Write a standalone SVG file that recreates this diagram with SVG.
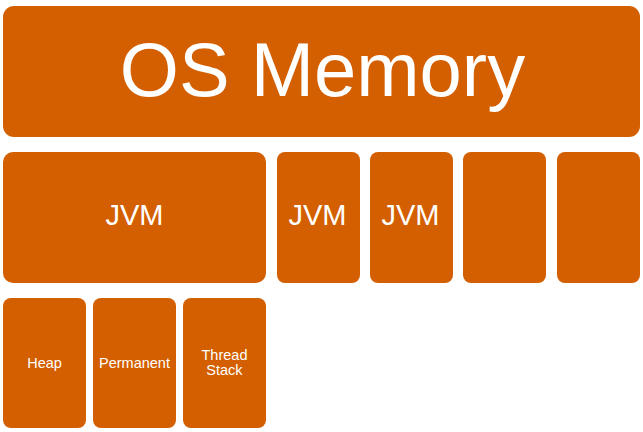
<svg xmlns="http://www.w3.org/2000/svg" width="643" height="432" viewBox="0 0 643 432">
<style>
.box{fill:#D35F00}
text{fill:#FFFFFF;font-family:"Liberation Sans",Arial,sans-serif;text-anchor:middle}
.t1{font-size:76px}
.t2{font-size:29px}
.t3{font-size:14.5px}
</style>
<rect x="0" y="0" width="643" height="432" fill="#FFFFFF"/>
<g id="os-memory">
<rect class="box" x="3" y="6" width="637" height="131" rx="11"/>
<text class="t1" x="322.5" y="96">OS Memory</text>
</g>
<g id="jvm1">
<rect class="box" x="3" y="152" width="263" height="131" rx="10"/>
<text class="t2" x="134.5" y="225">JVM</text>
</g>
<g id="jvm2">
<rect class="box" x="277" y="152" width="83" height="131" rx="8"/>
<text class="t2" x="317.5" y="225">JVM</text>
</g>
<g id="jvm3">
<rect class="box" x="370" y="152" width="83" height="131" rx="8"/>
<text class="t2" x="410.5" y="225">JVM</text>
</g>
<g id="jvm4">
<rect class="box" x="463" y="152" width="83" height="131" rx="8"/>
</g>
<g id="jvm5">
<rect class="box" x="557" y="152" width="83" height="131" rx="8"/>
</g>
<g id="heap">
<rect class="box" x="3" y="298" width="83" height="130" rx="8"/>
<text class="t3" x="44.5" y="367.5">Heap</text>
</g>
<g id="permanent">
<rect class="box" x="93" y="298" width="83" height="130" rx="8"/>
<text class="t3" x="134.5" y="367.5">Permanent</text>
</g>
<g id="thread-stack">
<rect class="box" x="183" y="298" width="83" height="130" rx="8"/>
<text class="t3" x="224.5" y="360">Thread</text>
<text class="t3" x="224.5" y="375">Stack</text>
</g>
<g id="connectors"></g>
</svg>
